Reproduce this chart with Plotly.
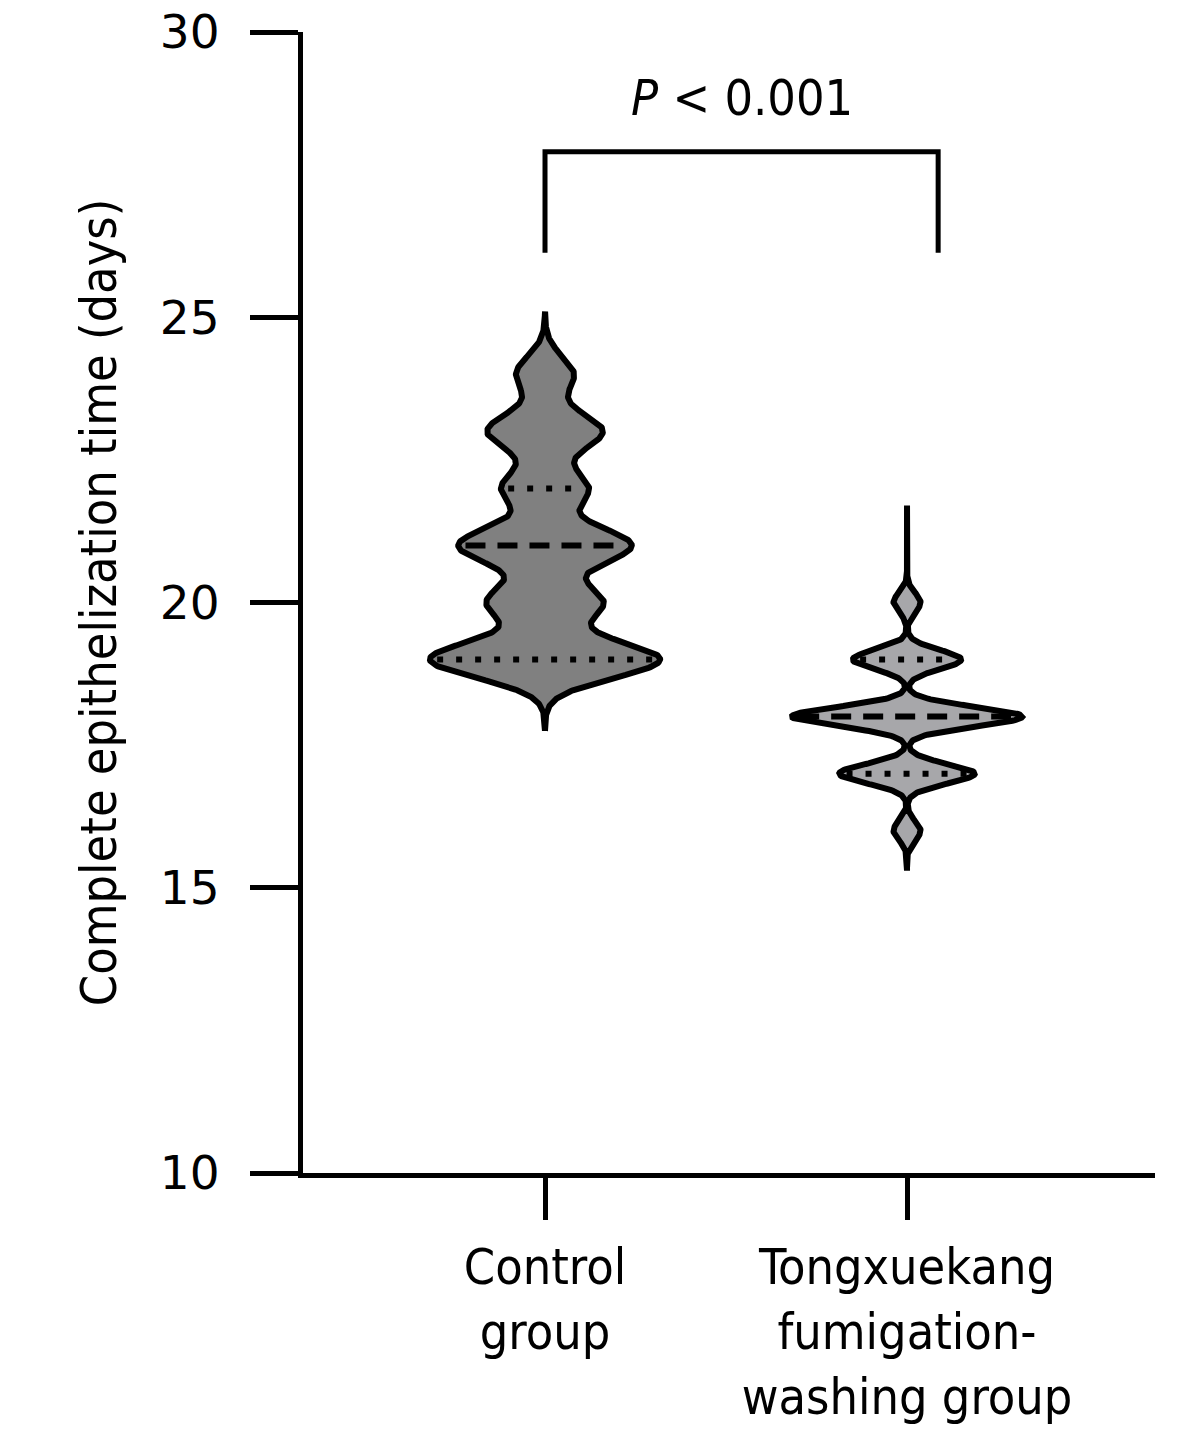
import numpy as np
import plotly.graph_objects as go

# values (days, number of patients per day)
groups = ["Control<br>group", "Tongxuekang<br>fumigation-<br>washing group"]
days = [16, 17, 18, 19, 20, 21, 22, 23, 24]
control_counts = [0, 0, 0, 8, 4, 6, 3, 4, 2]
tongxuekang_counts = [2, 10, 17, 8, 2, 0, 0, 0, 0]
y_ticks = [10, 15, 20, 25, 30]
p_label = "<i>P</i> < 0.001"

narrow = "DejaVu Sans Condensed, Liberation Sans Narrow, DejaVu Sans, sans-serif"
wide = "DejaVu Sans, Verdana, sans-serif"

# look of each violin: centre, fill, kde bandwidth, extent of the outline
violins = [
    dict(counts=control_counts, pos=0, fill="#808080", bw=0.32, lo=17.75, hi=25.1),
    dict(counts=tongxuekang_counts, pos=1, fill="#a7a7aa", bw=0.17, lo=15.3, hi=21.7),
]
max_half = 0.318

fig = go.Figure()

for v in violins:
    vals = np.array(days, dtype=float)
    cnts = np.array(v["counts"], dtype=float)
    grid = np.linspace(v["lo"], v["hi"], 600)
    dens = (cnts[None, :] * np.exp(-(grid[:, None] - vals[None, :]) ** 2 / (2 * v["bw"] ** 2))).sum(axis=1)
    half = dens / dens.max() * max_half

    xs = np.concatenate([v["pos"] - half, (v["pos"] + half)[::-1], [v["pos"] - half[0]]])
    ys = np.concatenate([grid, grid[::-1], [grid[0]]])
    fig.add_trace(go.Scatter(
        x=xs, y=ys, mode="lines", fill="toself", fillcolor=v["fill"],
        line=dict(color="black", width=6), hoverinfo="skip",
    ))

    sample = np.repeat(vals, cnts.astype(int))
    q1, med, q3 = np.percentile(sample, [25, 50, 75], method="weibull")
    for q, dash in [(q1, "6px,13px"), (med, "20px,12px"), (q3, "6px,13px")]:
        w = np.interp(q, grid, half) - 0.02
        fig.add_trace(go.Scatter(
            x=[v["pos"] - w, v["pos"] + w], y=[q, q], mode="lines",
            line=dict(color="black", width=6, dash=dash), hoverinfo="skip",
        ))

# significance bracket
fig.add_shape(type="path", path="M 0,26.13 L 0,27.9 L 1.086,27.9 L 1.086,26.13",
              line=dict(color="black", width=5))
fig.add_annotation(x=0.543, y=28.84, text=p_label, showarrow=False,
                   font=dict(family=narrow, size=50, color="black"))

fig.update_layout(
    width=1181, height=1449,
    margin=dict(l=303, r=26, t=32, b=276),
    plot_bgcolor="white", paper_bgcolor="white",
    showlegend=False,
)
fig.update_xaxes(
    range=[-0.6685, 1.685], tickvals=[0, 1], ticktext=groups,
    ticks="outside", ticklen=42, tickwidth=5, tickcolor="black",
    showline=True, linewidth=5, linecolor="black", automargin=False,
    showgrid=False, zeroline=False, ticklabelstandoff=4,
    ticklabeloverflow="allow",
    tickfont=dict(family=narrow, size=50, color="black"),
)
fig.update_yaxes(
    range=[10, 30], tickvals=y_ticks,
    ticks="outside", ticklen=48, tickwidth=5, tickcolor="black",
    showline=True, linewidth=5, linecolor="black", automargin=False,
    showgrid=False, zeroline=False, ticklabelstandoff=21,
    ticklabeloverflow="allow",
    tickfont=dict(family=wide, size=47, color="black"),
    title=dict(text="Complete epithelization time (days)", standoff=29,
               font=dict(family=narrow, size=50, color="black")),
)

# drop the browser's default 8px body margin so the figure sits at 0,0
fig.write_html("out.html", config={"displayModeBar": False},
               post_script="document.body.style.margin = '0';")
